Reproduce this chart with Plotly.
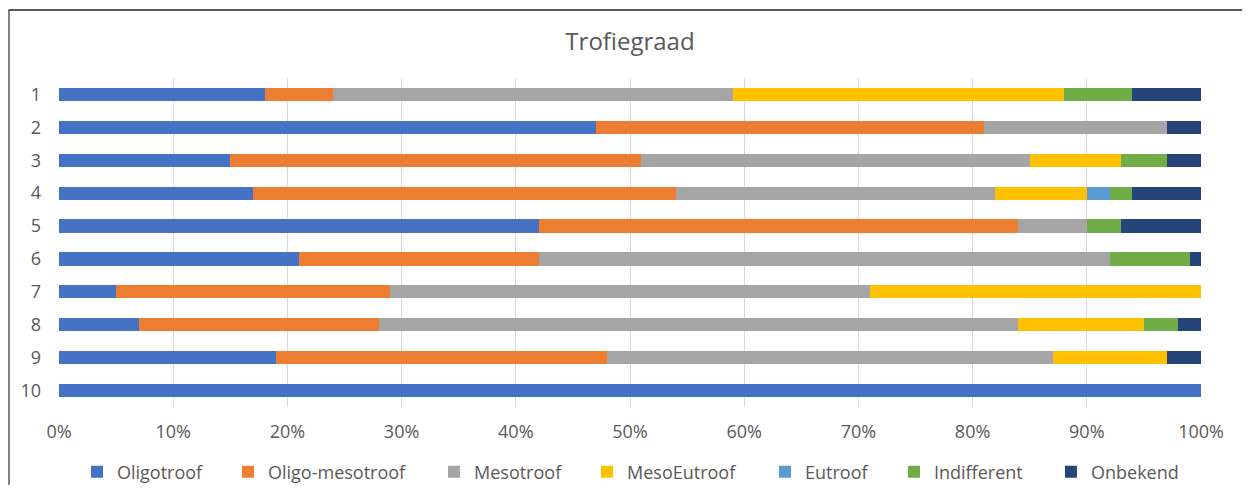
import plotly.graph_objects as go

categories = ["1", "2", "3", "4", "5", "6", "7", "8", "9", "10"]
series_names = ["Oligotroof", "Oligo-mesotroof", "Mesotroof", "MesoEutroof", "Eutroof", "Indifferent", "Onbekend"]
colors = ["#4472C4", "#ED7D31", "#A5A5A5", "#FFC000", "#5B9BD5", "#70AD47", "#264478"]
tick_vals = [0, 10, 20, 30, 40, 50, 60, 70, 80, 90, 100]
tick_text = ["0%", "10%", "20%", "30%", "40%", "50%", "60%", "70%", "80%", "90%", "100%"]

oligotroof = [18, 47, 15, 17, 42, 21, 5, 7, 19, 100]
oligo_mesotroof = [6, 34, 36, 37, 42, 21, 24, 21, 29, 0]
mesotroof = [35, 16, 34, 28, 6, 50, 42, 56, 39, 0]
mesoeutroof = [29, 0, 8, 8, 0, 0, 29, 11, 10, 0]
eutroof = [0, 0, 0, 2, 0, 0, 0, 0, 0, 0]
indifferent = [6, 0, 4, 2, 3, 7, 0, 3, 0, 0]
onbekend = [6, 3, 3, 6, 7, 1, 0, 2, 3, 0]

values = [oligotroof, oligo_mesotroof, mesotroof, mesoeutroof, eutroof, indifferent, onbekend]

# page offset from browser body margin
OFF = 8
W, H = 1242, 477
L, R, T, B = 51, 49, 70, 78
pw, ph = W - L - R, H - T - B


def px_x(px):
    return (px - OFF - L) / pw


def px_y(py):
    return (H - B - (py - OFF)) / ph


font_family = "Open Sans, Noto Sans, Liberation Sans, sans-serif"
text_col = "#595959"

# legend text start positions (page pixels) measured from reference
legend_text_x = [112, 263, 469, 622, 800, 929, 1086]

fig = go.Figure()
for i, (name, col, vals) in enumerate(zip(series_names, colors, values)):
    lg = "legend" if i == 0 else f"legend{i + 1}"
    fig.add_trace(go.Bar(
        y=categories, x=vals, name=name, orientation="h",
        marker=dict(color=col, line=dict(width=0)),
        legend=lg,
    ))

layout_legends = {}
for i, tx in enumerate(legend_text_x):
    key = "legend" if i == 0 else f"legend{i + 1}"
    layout_legends[key] = dict(
        orientation="h", x=px_x(tx - 35), xanchor="left",
        y=px_y(472), yanchor="middle",
        font=dict(size=18, color=text_col, family=font_family),
        itemwidth=30, bgcolor="rgba(0,0,0,0)", borderwidth=0,
    )

fig.update_layout(
    barmode="stack",
    bargap=0.6,
    width=W, height=H,
    margin=dict(l=L, r=R, t=T, b=B, autoexpand=False),
    paper_bgcolor="white",
    plot_bgcolor="white",
    font=dict(family=font_family, color=text_col, size=18),
    title=dict(text="Trofiegraad", x=0.5, xanchor="center",
               xref="paper", y=1 - (42 - OFF) / H, yanchor="middle",
               font=dict(size=24, color=text_col, family=font_family)),
    xaxis=dict(
        range=[0, 100], tickvals=tick_vals, ticktext=tick_text,
        showgrid=True, gridcolor="#D9D9D9", gridwidth=1, zeroline=False,
        showline=False, ticks="", ticklabelstandoff=12,
        tickfont=dict(size=18, color=text_col), fixedrange=True,
    ),
    yaxis=dict(
        autorange="reversed", showgrid=False, zeroline=False, showline=False,
        ticks="", ticklabelstandoff=17, tickfont=dict(size=18, color=text_col),
        fixedrange=True,
    ),
    showlegend=True,
    **layout_legends,
)

# chart frame (top and left edges)
fig.add_shape(type="line", xref="paper", yref="paper", x0=px_x(8.5), x1=px_x(1260),
              y0=px_y(10), y1=px_y(10), line=dict(color="#595959", width=2))
fig.add_shape(type="line", xref="paper", yref="paper", x0=px_x(9), x1=px_x(9),
              y0=px_y(10), y1=px_y(500), line=dict(color="#595959", width=1.5))

fig.write_html("out.html")
